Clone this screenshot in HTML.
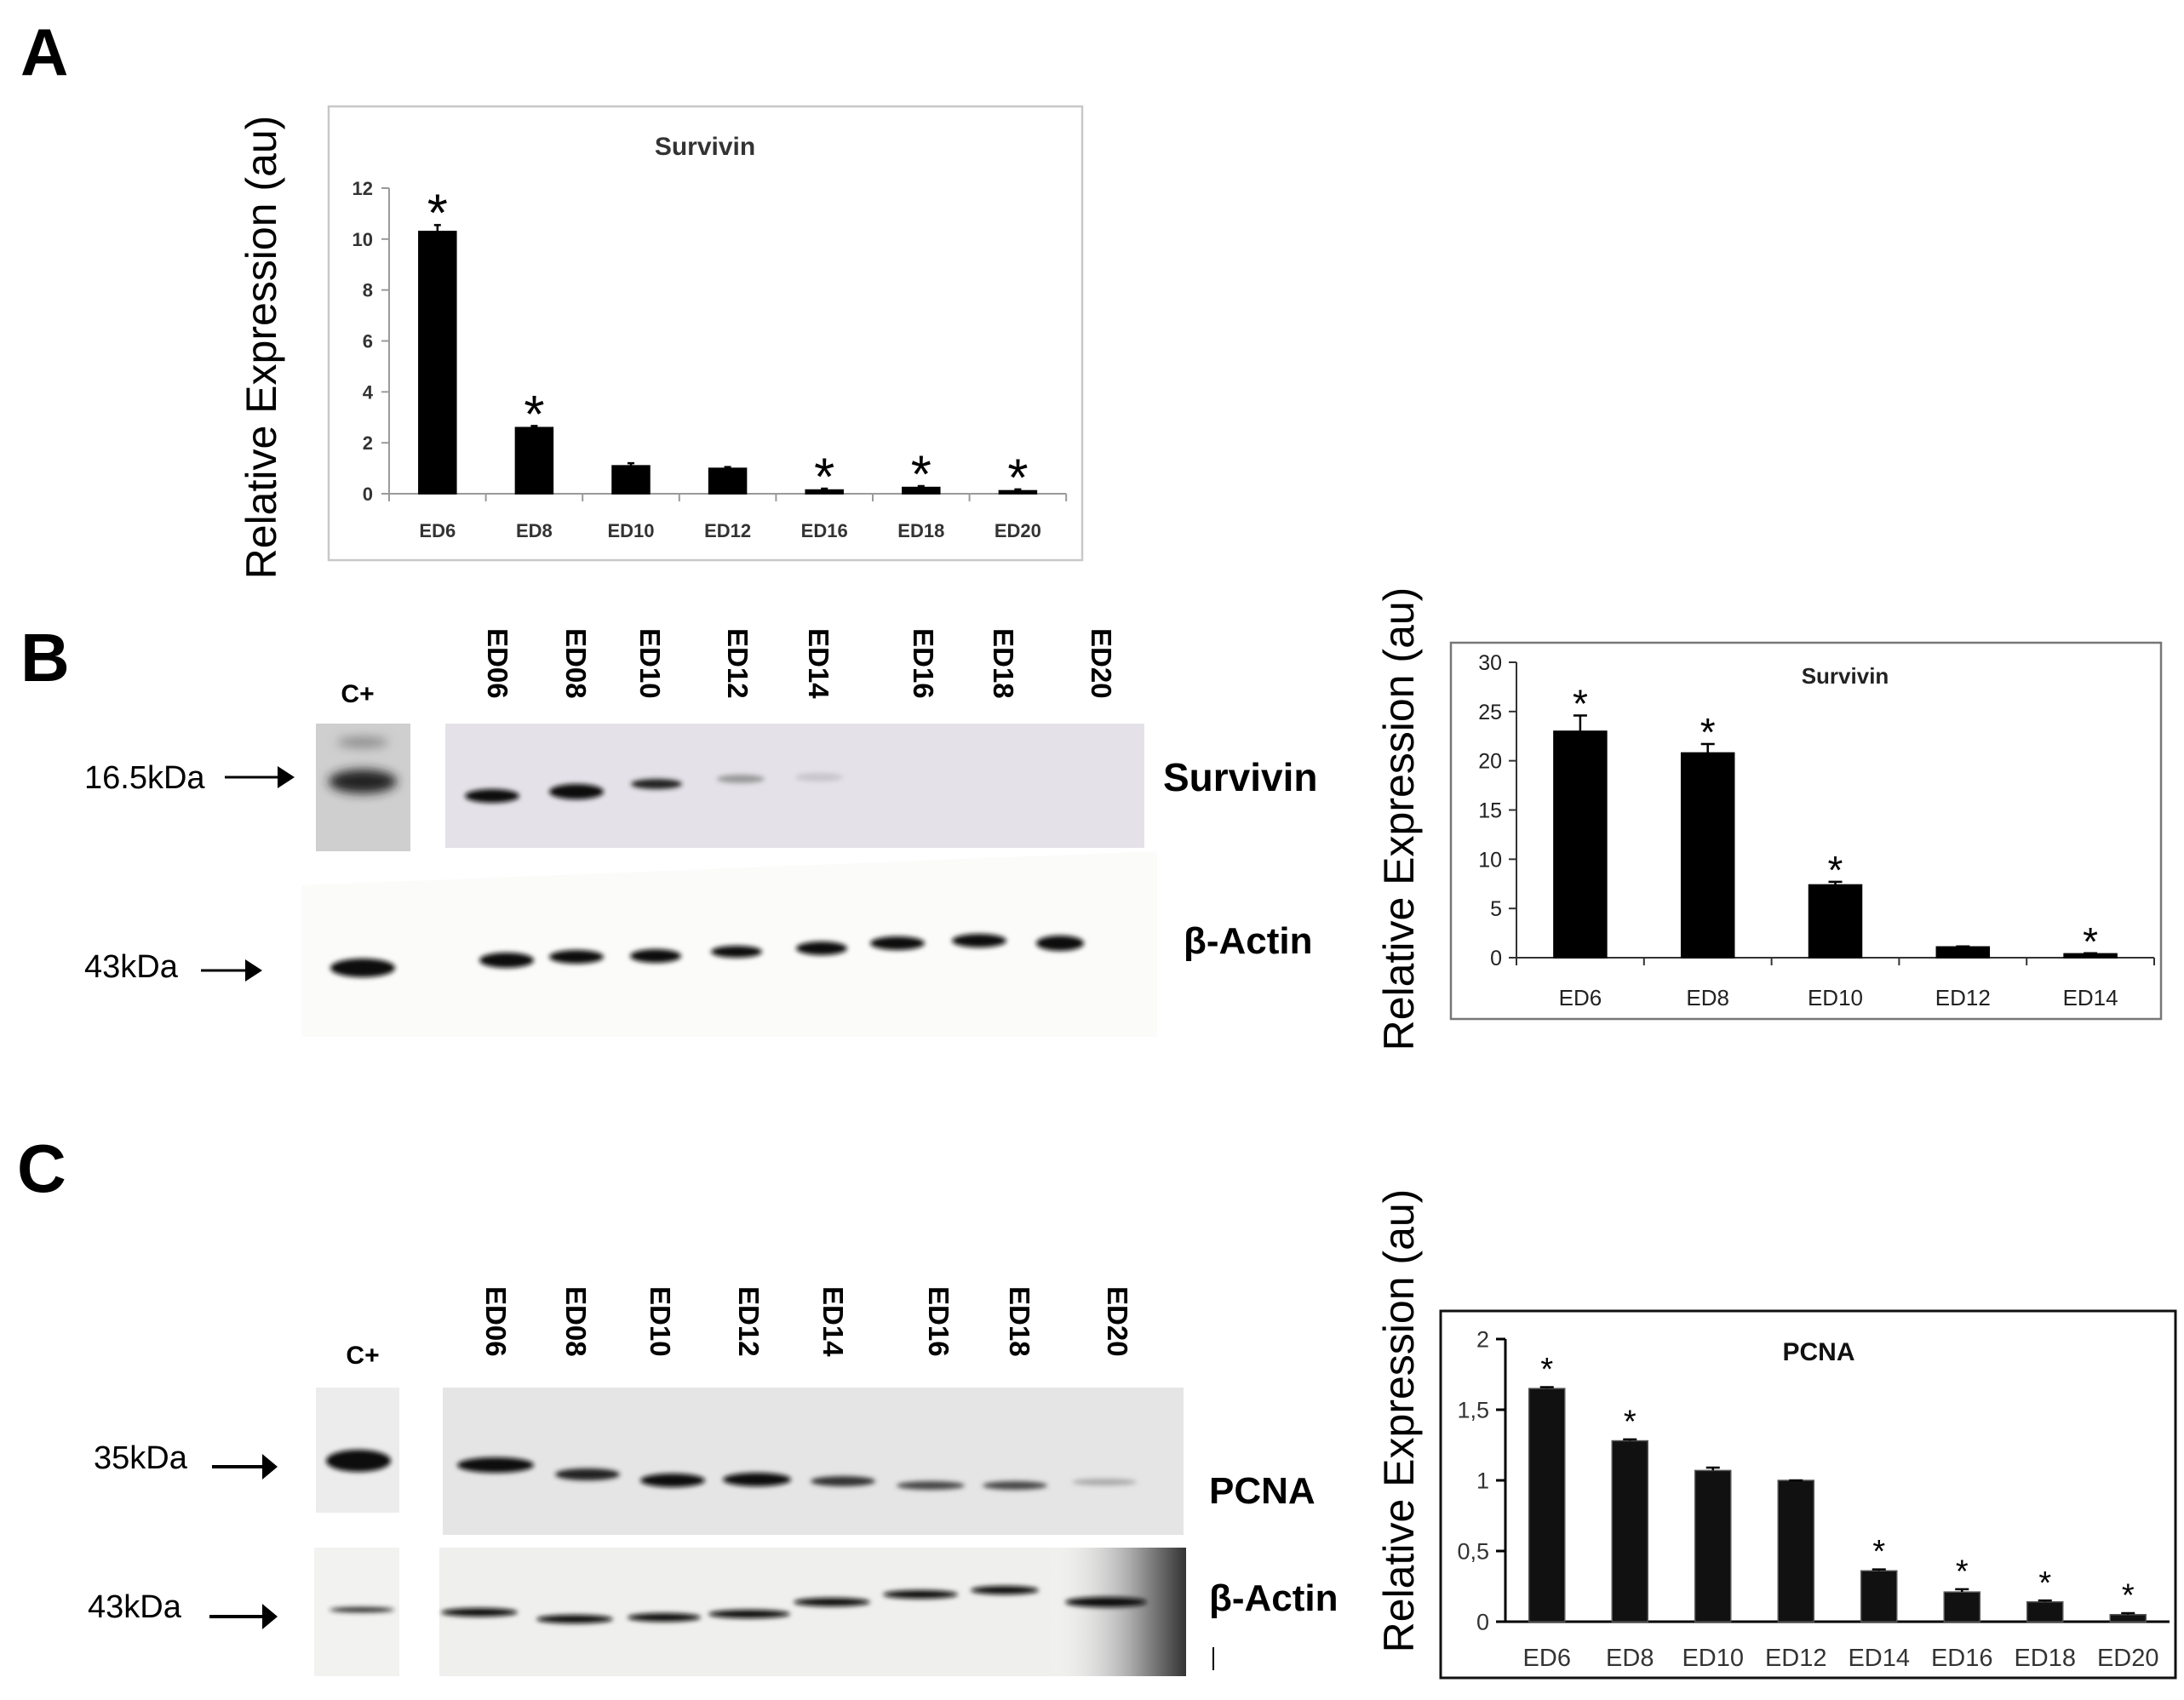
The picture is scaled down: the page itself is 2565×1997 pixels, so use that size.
<!DOCTYPE html>
<html><head><meta charset="utf-8"><style>
html,body{margin:0;padding:0;background:#fff;}
svg{display:block;}
text{font-family:"Liberation Sans",Arial,sans-serif;}
</style></head><body>
<svg id="fig" width="2565" height="1997" viewBox="0 0 2565 1997" xmlns="http://www.w3.org/2000/svg">
<defs>
<filter id="b3" x="-50%" y="-200%" width="200%" height="500%"><feGaussianBlur stdDeviation="3"/></filter>
<filter id="b6" x="-50%" y="-200%" width="200%" height="500%"><feGaussianBlur stdDeviation="6"/></filter>
<linearGradient id="smear" x1="0" x2="1" y1="0" y2="0"><stop offset="0" stop-color="#fff" stop-opacity="0"/><stop offset="0.6" stop-color="#aaa"/><stop offset="1" stop-color="#333"/></linearGradient>
</defs>

<text x="24" y="88" font-size="78" font-weight="bold">A</text>
<text x="24" y="800" font-size="80" font-weight="bold">B</text>
<text x="20" y="1400" font-size="80" font-weight="bold">C</text>

<g>
<text x="420" y="825" font-size="30" font-weight="bold" text-anchor="middle">C+</text>
<g font-size="33" font-weight="bold">
<text transform="translate(573,738) rotate(90)">ED06</text>
<text transform="translate(665,738) rotate(90)">ED08</text>
<text transform="translate(752,738) rotate(90)">ED10</text>
<text transform="translate(855,738) rotate(90)">ED12</text>
<text transform="translate(950,738) rotate(90)">ED14</text>
<text transform="translate(1073,738) rotate(90)">ED16</text>
<text transform="translate(1167,738) rotate(90)">ED18</text>
<text transform="translate(1282,738) rotate(90)">ED20</text>
</g>
<rect x="371" y="850" width="111" height="150" fill="#cfcfcf"/>
<ellipse cx="426" cy="872" rx="30" ry="6" fill="#888" filter="url(#b6)"/>
<ellipse cx="426" cy="918" rx="40" ry="14" fill="#222" filter="url(#b6)"/>
<rect x="523" y="850" width="821" height="146" fill="#e4e2e8"/>
<ellipse cx="578" cy="935" rx="32" ry="8" fill="#111" filter="url(#b3)"/>
<ellipse cx="677" cy="930" rx="32" ry="9" fill="#111" filter="url(#b3)"/>
<ellipse cx="771" cy="921" rx="30" ry="6" fill="#222" filter="url(#b3)"/>
<ellipse cx="870" cy="915" rx="28" ry="5" fill="#999" filter="url(#b3)"/>
<ellipse cx="962" cy="913" rx="28" ry="5" fill="#c8c6cc" filter="url(#b3)"/>
<text x="99" y="926" font-size="38">16.5kDa</text>
<line x1="264" y1="913" x2="330" y2="913" stroke="#000" stroke-width="3"/>
<polygon points="326,900 346,913 326,926" fill="#000"/>
<text x="1366" y="929" font-size="46" font-weight="bold">Survivin</text>
<polygon points="354,1040 1359,1000 1359,1218 354,1218" fill="#fbfbfa"/>
<ellipse cx="426" cy="1137" rx="38" ry="11" fill="#111" filter="url(#b3)"/>
<ellipse cx="595" cy="1128" rx="32" ry="9" fill="#111" filter="url(#b3)"/>
<ellipse cx="677" cy="1124" rx="32" ry="8" fill="#111" filter="url(#b3)"/>
<ellipse cx="770" cy="1123" rx="30" ry="8" fill="#111" filter="url(#b3)"/>
<ellipse cx="865" cy="1118" rx="30" ry="7" fill="#111" filter="url(#b3)"/>
<ellipse cx="965" cy="1114" rx="30" ry="8" fill="#111" filter="url(#b3)"/>
<ellipse cx="1054" cy="1108" rx="32" ry="8" fill="#111" filter="url(#b3)"/>
<ellipse cx="1150" cy="1105" rx="32" ry="8" fill="#111" filter="url(#b3)"/>
<ellipse cx="1245" cy="1108" rx="28" ry="9" fill="#111" filter="url(#b3)"/>
<text x="99" y="1148" font-size="38">43kDa</text>
<line x1="236" y1="1140" x2="292" y2="1140" stroke="#000" stroke-width="3"/>
<polygon points="288,1127 308,1140 288,1153" fill="#000"/>
<text x="1390" y="1120" font-size="44" font-weight="bold">β-Actin</text>
</g>

<g>
<text x="426" y="1602" font-size="30" font-weight="bold" text-anchor="middle">C+</text>
<g font-size="33" font-weight="bold">
<text transform="translate(571,1511) rotate(90)">ED06</text>
<text transform="translate(665,1511) rotate(90)">ED08</text>
<text transform="translate(764,1511) rotate(90)">ED10</text>
<text transform="translate(868,1511) rotate(90)">ED12</text>
<text transform="translate(967,1511) rotate(90)">ED14</text>
<text transform="translate(1091,1511) rotate(90)">ED16</text>
<text transform="translate(1186,1511) rotate(90)">ED18</text>
<text transform="translate(1301,1511) rotate(90)">ED20</text>
</g>
<rect x="371" y="1630" width="98" height="147" fill="#ececec"/>
<ellipse cx="421" cy="1716" rx="38" ry="13" fill="#111" filter="url(#b3)"/>
<rect x="520" y="1630" width="870" height="173" fill="#e5e5e5"/>
<ellipse cx="582" cy="1721" rx="45" ry="9" fill="#111" filter="url(#b3)"/>
<ellipse cx="690" cy="1732" rx="38" ry="7" fill="#222" filter="url(#b3)"/>
<ellipse cx="790" cy="1739" rx="38" ry="8" fill="#111" filter="url(#b3)"/>
<ellipse cx="889" cy="1738" rx="40" ry="8" fill="#111" filter="url(#b3)"/>
<ellipse cx="990" cy="1740" rx="38" ry="6" fill="#333" filter="url(#b3)"/>
<ellipse cx="1093" cy="1745" rx="40" ry="5" fill="#444" filter="url(#b3)"/>
<ellipse cx="1192" cy="1745" rx="38" ry="5" fill="#444" filter="url(#b3)"/>
<ellipse cx="1297" cy="1741" rx="38" ry="4" fill="#aaa" filter="url(#b3)"/>
<text x="110" y="1725" font-size="38">35kDa</text>
<line x1="249" y1="1723" x2="312" y2="1723" stroke="#000" stroke-width="4"/>
<polygon points="308,1708 326,1723 308,1738" fill="#000"/>
<text x="1420" y="1766" font-size="44" font-weight="bold">PCNA</text>
<rect x="369" y="1818" width="100" height="151" fill="#f2f2f0"/>
<ellipse cx="425" cy="1891" rx="38" ry="3" fill="#222" filter="url(#b3)"/>
<rect x="516" y="1818" width="877" height="151" fill="#efefed"/>
<rect x="1230" y="1818" width="163" height="151" fill="url(#smear)"/>
<ellipse cx="563" cy="1894" rx="45" ry="5" fill="#111" filter="url(#b3)"/>
<ellipse cx="675" cy="1902" rx="45" ry="5" fill="#111" filter="url(#b3)"/>
<ellipse cx="780" cy="1900" rx="43" ry="5" fill="#111" filter="url(#b3)"/>
<ellipse cx="880" cy="1896" rx="48" ry="5" fill="#111" filter="url(#b3)"/>
<ellipse cx="977" cy="1882" rx="45" ry="5" fill="#111" filter="url(#b3)"/>
<ellipse cx="1081" cy="1873" rx="44" ry="5" fill="#111" filter="url(#b3)"/>
<ellipse cx="1180" cy="1868" rx="40" ry="5" fill="#111" filter="url(#b3)"/>
<ellipse cx="1299" cy="1882" rx="48" ry="6" fill="#111" filter="url(#b3)"/>
<text x="103" y="1900" font-size="38">43kDa</text>
<line x1="246" y1="1899" x2="312" y2="1899" stroke="#000" stroke-width="4"/>
<polygon points="308,1884 326,1899 308,1914" fill="#000"/>
<text x="1420" y="1892" font-size="44" font-weight="bold">β-Actin</text>
<line x1="1425" y1="1935" x2="1425" y2="1962" stroke="#000" stroke-width="2"/>
</g>

<g id="chartA"></g>
<g id="chartB"></g>
<g id="chartC"></g>
</svg>
<script>
// ---- Chart A data ----
const catsA = ["ED6","ED8","ED10","ED12","ED16","ED18","ED20"];
const valsA = [10.3, 2.6, 1.1, 1.0, 0.15, 0.25, 0.12];
const errA = [0.25, 0.06, 0.1, 0.05, 0.05, 0.05, 0.05];
const sigA = [true, true, false, false, true, true, true];
const ticksA = [0, 2, 4, 6, 8, 10, 12];
// ---- Chart B data ----
const catsB = ["ED6","ED8","ED10","ED12","ED14"];
const valsB = [23, 20.8, 7.4, 1.1, 0.4];
const errB = [1.6, 0.9, 0.3, 0.05, 0.05];
const sigB = [true, true, true, false, true];
const ticksB = [0, 5, 10, 15, 20, 25, 30];
// ---- Chart C data ----
const catsC = ["ED6","ED8","ED10","ED12","ED14","ED16","ED18","ED20"];
const valsC = [1.65, 1.28, 1.07, 1.0, 0.36, 0.21, 0.14, 0.05];
const errC = [0.01, 0.01, 0.02, 0.0, 0.01, 0.02, 0.01, 0.01];
const sigC = [true, true, false, false, true, true, true, true];
const ticksC = [0, 0.5, 1, 1.5, 2];
const tickLabelsC = ["0","0,5","1","1,5","2"];

const NS = "http://www.w3.org/2000/svg";
function mk(parent, tag, attrs, txt){
  const e = document.createElementNS(NS, tag);
  for (const k in attrs) e.setAttribute(k, attrs[k]);
  if (txt !== undefined) e.textContent = txt;
  parent.appendChild(e);
  return e;
}

function drawChart(g, o){
  const yS = v => o.y0 - (v - o.ymin) / (o.ymax - o.ymin) * (o.y0 - o.yTop);
  const xS = i => o.xStart + o.step * (i + 0.5);
  const fr = mk(g, "rect", {x:o.box[0], y:o.box[1], width:o.box[2], height:o.box[3], fill:"#fff", stroke:o.boxColor, "stroke-width":o.boxW});
  
  
  const yt = mk(g, "text", {transform:`translate(${o.ytX},${o.ytY}) rotate(-90)`, "font-size":o.ytSize, "text-anchor":"middle"}, "Relative Expression (au)");
  
  
  const tt = mk(g, "text", {x:o.titleX, y:o.titleY, "font-size":o.titleSize, "font-weight":"bold", "text-anchor":"middle", fill:o.titleColor}, o.title);
  
  
  const ya = mk(g, "line", {x1:o.xStart, y1:yS(o.ymax), x2:o.xStart, y2:o.y0, stroke:o.axisColor, "stroke-width":o.axisW});
  
  
  o.ticks.forEach((t, i) => {
    const y = yS(t);
    mk(g, "line", {x1:o.xStart - o.tickLen, y1:y, x2:o.xStart, y2:y, stroke:o.axisColor, "stroke-width":o.axisW});
    const tl = mk(g, "text", {x:o.xStart - o.tickLen - o.tickGap, y:y + o.tickSize*0.36, "font-size":o.tickSize, "text-anchor":"end", fill:o.tickColor, "font-weight":o.tickWeight}, o.tickLabels ? o.tickLabels[i] : String(t));
    
    
  });
  const xEnd = o.xStart + o.step * o.cats.length;
  const xa = mk(g, "line", {x1:o.xStart, y1:o.y0, x2:xEnd, y2:o.y0, stroke:o.axisColor, "stroke-width":o.axisW});
  
  
  if (o.xTicks) for (let i = 0; i <= o.cats.length; i++){
    const x = o.xStart + o.step * i;
    mk(g, "line", {x1:x, y1:o.y0, x2:x, y2:o.y0 + o.tickLen, stroke:o.axisColor, "stroke-width":o.axisW});
  }
  o.cats.forEach((c, i) => {
    const cx = xS(i), top = yS(o.vals[i]);
    const bar = mk(g, "rect", {x:cx - o.barW/2, y:top, width:o.barW, height:o.y0 - top, fill:o.barColor, stroke:o.barStroke, "stroke-width":1.5});
    
    
    const et = yS(o.vals[i] + o.errs[i]);
    const eb = mk(g, "path", {d:`M${cx},${top} L${cx},${et} M${cx - o.capW},${et} L${cx + o.capW},${et}`, stroke:"#000", "stroke-width":2.5, fill:"none"});
    
    
    if (o.sig[i]){
      const ay = et - o.astOff;
      const a = mk(g, "text", {x:cx, y:ay + o.astSize*0.57, "font-size":o.astSize, "text-anchor":"middle"}, "*");
      
      
    }
    const cl = mk(g, "text", {x:cx, y:o.catY, "font-size":o.catSize, "text-anchor":"middle", fill:o.tickColor, "font-weight":o.tickWeight}, c);
    
    
  });
}

drawChart(document.getElementById("chartA"), {
  cats:catsA, vals:valsA, errs:errA, sig:sigA, ticks:ticksA,
  box:[386,125,885,533], boxColor:"#c8c8c8", boxW:2.5,
  ytX:324, ytY:408, ytSize:50,
  title:"Survivin", titleX:828, titleY:182, titleSize:30, titleColor:"#333",
  xStart:457, step:113.6, y0:580, yTop:221, ymin:0, ymax:12,
  axisColor:"#9a9a9a", axisW:2, tickLen:9, tickGap:10, tickSize:22, tickColor:"#333", tickWeight:"bold",
  xTicks:true, barW:44, barColor:"#000", barStroke:"#000", capW:4,
  astSize:62, astOff:28, catY:631, catSize:22
});
drawChart(document.getElementById("chartB"), {
  cats:catsB, vals:valsB, errs:errB, sig:sigB, ticks:ticksB,
  box:[1704,755,834,442], boxColor:"#777", boxW:2.5,
  ytX:1660, ytY:962, ytSize:50,
  title:"Survivin", titleX:2167, titleY:803, titleSize:26, titleColor:"#222",
  xStart:1781, step:149.8, y0:1125, yTop:778, ymin:0, ymax:30,
  axisColor:"#333", axisW:2, tickLen:9, tickGap:8, tickSize:25, tickColor:"#222", tickWeight:"normal",
  xTicks:true, barW:62, barColor:"#000", barStroke:"#000", capW:8,
  astSize:46, astOff:24, catY:1181, catSize:26
});
drawChart(document.getElementById("chartC"), {
  cats:catsC, vals:valsC, errs:errC, sig:sigC, ticks:ticksC, tickLabels:tickLabelsC,
  box:[1692,1540,863,431], boxColor:"#111", boxW:3,
  ytX:1660, ytY:1669, ytSize:50,
  title:"PCNA", titleX:2136, titleY:1598, titleSize:30, titleColor:"#111",
  xStart:1768, step:97.5, y0:1905, yTop:1573, ymin:0, ymax:2,
  axisColor:"#000", axisW:3, tickLen:11, tickGap:8, tickSize:27, tickColor:"#333", tickWeight:"normal",
  xTicks:false, barW:42, barColor:"#111", barStroke:"#555", capW:8,
  astSize:38, astOff:30, catY:1957, catSize:29
});
</script>
</body></html>
